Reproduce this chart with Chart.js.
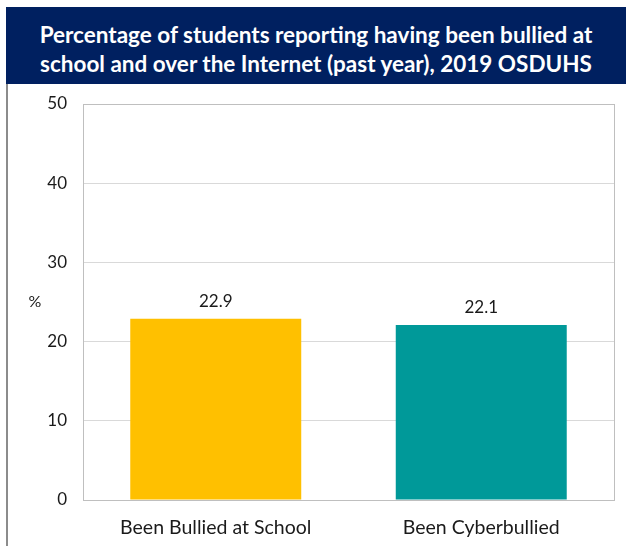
<!DOCTYPE html>
<html>
<head>
<meta charset="utf-8">
<script src="https://cdn.jsdelivr.net/npm/chart.js@4/dist/chart.umd.min.js"></script>
<style>
  html, body { margin: 0; padding: 0; background: #ffffff; width: 626px; height: 546px; overflow: hidden; }
  #banner { position: absolute; left: 6px; top: 7px; width: 620px; height: 77px; background: #002060;
    color: #ffffff; font-family: "Lato", "Open Sans", sans-serif; font-weight: bold; font-size: 22.5px;
    line-height: 29px; text-align: center; display: flex; align-items: center; justify-content: center; }
  #banner > div { position: relative; top: 3px; }
  #frame { position: absolute; left: 6px; top: 84px; width: 640px; height: 500px; border: 2px solid #8c8c8c; border-top: none; }
  #wrap { position: absolute; left: 0; top: 0; width: 626px; height: 546px; }
</style>
</head>
<body>
<div id="banner"><div>Percentage of students reporting having been bullied at<br>school and over the Internet (past year), 2019 OSDUHS</div></div>
<div id="frame"></div>
<div id="wrap"><canvas id="c" width="626" height="546"></canvas></div>
<script>
const categories = ["Been Bullied at School", "Been Cyberbullied"];
const values = [22.9, 22.1];
const barColors = ["#FFC000", "#009999"];
const yTicks = [0, 10, 20, 30, 40, 50];
const yAxisLabel = "%";

const FONT = "Lato, 'Open Sans', sans-serif";

const extras = {
  id: 'extras',
  afterDatasetsDraw(chart) {
    const ctx = chart.ctx;
    const meta = chart.getDatasetMeta(0);
    ctx.save();
    ctx.fillStyle = '#1a1a1a';
    ctx.font = '17px ' + FONT;
    ctx.textAlign = 'center';
    ctx.textBaseline = 'bottom';
    meta.data.forEach((bar, i) => {
      ctx.fillText(values[i].toFixed(1), bar.x, bar.y - 9);
    });
    ctx.restore();
  },
  afterDraw(chart) {
    const ctx = chart.ctx;
    const a = chart.chartArea;
    ctx.save();
    ctx.strokeStyle = '#bfbfbf';
    ctx.lineWidth = 1;
    ctx.strokeRect(Math.round(a.left) + 0.5, Math.round(a.top) + 0.5, Math.round(a.right - a.left), Math.round(a.bottom - a.top));
    ctx.fillStyle = '#1a1a1a';
    ctx.font = '16px ' + FONT;
    ctx.textAlign = 'center';
    ctx.textBaseline = 'middle';
    ctx.fillText(yAxisLabel, 35, (a.top + a.bottom) / 2);
    ctx.restore();
  }
};

new Chart(document.getElementById('c'), {
  type: 'bar',
  data: {
    labels: categories,
    datasets: [{
      data: values,
      backgroundColor: barColors,
      borderWidth: 0,
      categoryPercentage: 0.644,
      barPercentage: 1.0
    }]
  },
  options: {
    responsive: false,
    animation: false,
    layout: { padding: { top: 104, right: 12, bottom: 0, left: 0 } },
    plugins: { legend: { display: false }, tooltip: { enabled: false }, title: { display: false } },
    scales: {
      x: {
        grid: { display: false, drawTicks: false },
        border: { display: true, color: '#bfbfbf' },
        ticks: { color: '#1a1a1a', font: { family: FONT, size: 19.5 }, padding: 16, maxRotation: 0 },
        afterFit(s) { s.height = 46; }
      },
      y: {
        min: 0, max: 50,
        afterBuildTicks(s) { s.ticks = yTicks.map(v => ({ value: v })); },
        grid: { color: '#d9d9d9', drawTicks: false },
        border: { display: true, color: '#bfbfbf' },
        ticks: { color: '#1a1a1a', font: { family: FONT, size: 17 }, padding: 16 },
        afterFit(s) { s.width = 83; }
      }
    }
  },
  plugins: [extras]
});
</script>
</body>
</html>
